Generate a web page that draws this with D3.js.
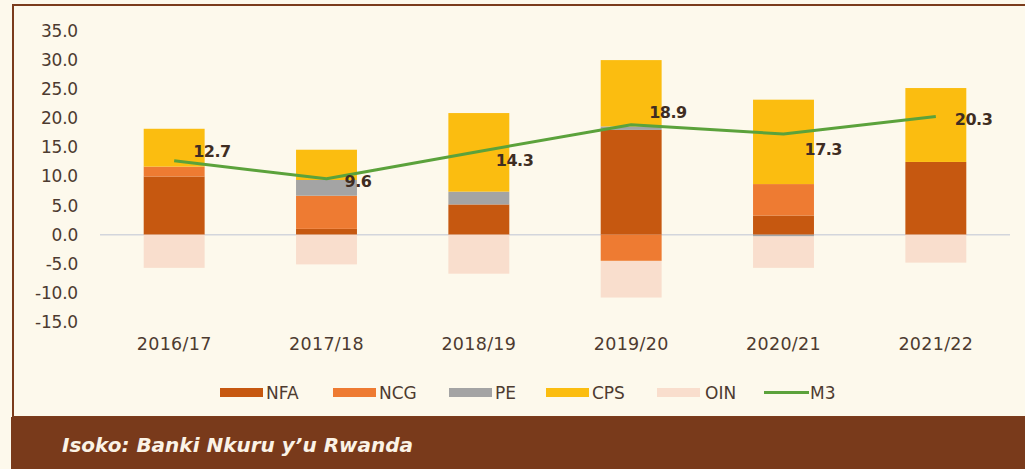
<!DOCTYPE html>
<html>
<head>
<meta charset="utf-8">
<script src="https://cdn.jsdelivr.net/npm/d3@7/dist/d3.min.js"></script>
<style>
  html, body { margin: 0; padding: 0; background: #fdf9ec; }
  svg { display: block; }
</style>
</head>
<body>
<svg id="chart" width="1025" height="469"></svg>
<script>
// ---- data ----
const categories = ["2016/17", "2017/18", "2018/19", "2019/20", "2020/21", "2021/22"];
const NFA = [10.0, 1.0, 5.2, 18.0, 3.3, 12.5];
const NCG = [1.7, 5.7, 0.0, -4.5, 5.4, 0.0];
const PE  = [0.0, 2.7, 2.2, 0.6, -0.3, 0.0];
const CPS = [6.5, 5.2, 13.5, 11.4, 14.5, 12.7];
const OIN = [-5.7, -5.1, -6.7, -6.3, -5.4, -4.8];
const M3  = [12.7, 9.6, 14.3, 18.9, 17.3, 20.3];
const yTicks = [-15, -10, -5, 0, 5, 10, 15, 20, 25, 30, 35];
const seriesNames = ["NFA", "NCG", "PE", "CPS", "OIN"];

// label nudges (styling, px)
const labelDx = [19, 18, 17, 18, 21, 19];
const labelDy = [-4, 8, 15, -7, 21, 8];

const colors = { NFA: "#c65810", NCG: "#ee7b32", PE: "#a4a4a4", CPS: "#fbbd10", OIN: "#f9decd", M3: "#5ba23b" };
const seriesData = { NFA, NCG, PE, CPS, OIN };

const rows = categories.map((c, i) => {
  const r = { cat: c };
  seriesNames.forEach(s => r[s] = seriesData[s][i]);
  return r;
});

const svg = d3.select("#chart");
const W = 1025, H = 469;
const font = "'DejaVu Sans', sans-serif";
const textCol = "#4d3b30";

// background + frame
svg.append("rect").attr("x", 0).attr("y", 0).attr("width", W).attr("height", H).attr("fill", "#fdf9ec");
svg.append("rect").attr("x", 13).attr("y", 5).attr("width", 1030).attr("height", 412)
  .attr("fill", "#fdf9ec").attr("stroke", "#7b3c1c").attr("stroke-width", 2);
svg.append("rect").attr("x", 11).attr("y", 417).attr("width", W).attr("height", 52).attr("fill", "#793a1b");
svg.append("text").attr("x", 62).attr("y", 452)
  .attr("font-family", font).attr("font-size", 20).attr("font-weight", "bold").attr("font-style", "italic")
  .attr("fill", "#fbf3e6").text("Isoko: Banki Nkuru y\u2019u Rwanda");

// scales
const x = d3.scaleBand().domain(categories).range([98, 1012]).paddingInner(0.6).paddingOuter(0.3);
const y = d3.scaleLinear().domain([-15, 35]).range([322, 31]);

// y axis
const fmt = d => d3.format(".1f")(d).replace("\u2212", "-");
const yAxis = svg.append("g").attr("transform", "translate(78,0)")
  .call(d3.axisLeft(y).tickValues(yTicks).tickFormat(fmt).tickSize(0).tickPadding(0));
yAxis.select(".domain").remove();
yAxis.selectAll("text").attr("font-family", font).attr("font-size", 17).attr("fill", textCol)
  .attr("letter-spacing", "-0.2px");

// zero line
svg.append("line").attr("x1", 100).attr("x2", 1010).attr("y1", y(0)).attr("y2", y(0))
  .attr("stroke", "#d3d6dc").attr("stroke-width", 1.5);

// stacked bars
const stack = d3.stack().keys(seriesNames).offset(d3.stackOffsetDiverging);
const stacked = stack(rows);
svg.append("g").selectAll("g").data(stacked).join("g")
  .attr("fill", d => colors[d.key])
  .selectAll("rect").data(d => d).join("rect")
  .attr("x", d => x(d.data.cat))
  .attr("width", x.bandwidth())
  .attr("y", d => y(Math.max(d[0], d[1])))
  .attr("height", d => Math.abs(y(d[0]) - y(d[1])));

// x axis labels
const xAxis = svg.append("g").attr("transform", "translate(0,338)")
  .call(d3.axisBottom(x).tickSize(0).tickPadding(0));
xAxis.select(".domain").remove();
xAxis.selectAll("text").attr("font-family", font).attr("font-size", 17.5).attr("fill", textCol)
  .attr("letter-spacing", "0.3px");

// M3 line
const cx = c => x(c) + x.bandwidth() / 2;
const line = d3.line().x((d, i) => cx(categories[i])).y(d => y(d));
svg.append("path").datum(M3).attr("d", line).attr("fill", "none")
  .attr("stroke", colors.M3).attr("stroke-width", 3).attr("stroke-linejoin", "round");

// M3 labels
svg.append("g").selectAll("text").data(M3).join("text")
  .attr("x", (d, i) => cx(categories[i]) + labelDx[i])
  .attr("y", (d, i) => y(d) + labelDy[i])
  .attr("font-family", font).attr("font-size", 16).attr("font-weight", "bold")
  .attr("letter-spacing", "-0.5px")
  .attr("fill", "#3f2d22").text(d => d.toFixed(1));

// legend
const legendItems = [
  { key: "NFA", x: 220, type: "rect" },
  { key: "NCG", x: 333, type: "rect" },
  { key: "PE", x: 449, type: "rect" },
  { key: "CPS", x: 546, type: "rect" },
  { key: "OIN", x: 657, type: "rect" },
  { key: "M3", x: 764, type: "line" }
];
const lg = svg.append("g");
legendItems.forEach(it => {
  if (it.type === "rect") {
    lg.append("rect").attr("x", it.x).attr("y", 388).attr("width", 43).attr("height", 9).attr("fill", colors[it.key]);
  } else {
    lg.append("line").attr("x1", it.x).attr("x2", it.x + 45).attr("y1", 392.5).attr("y2", 392.5)
      .attr("stroke", colors.M3).attr("stroke-width", 3);
  }
  lg.append("text").attr("x", it.x + (it.key === "OIN" ? 48 : 46)).attr("y", 398.5)
    .attr("font-family", font).attr("font-size", 17).attr("fill", textCol)
    .text(it.key);
});
</script>
</body>
</html>
